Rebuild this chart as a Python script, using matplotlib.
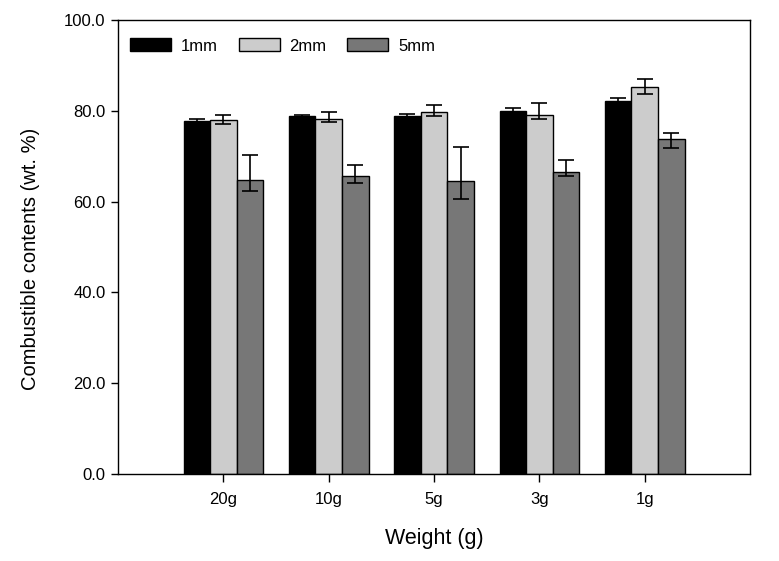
import numpy as np
import matplotlib.pyplot as plt
from matplotlib.ticker import FormatStrFormatter

plt.rcParams["font.family"] = ["Liberation Sans", "DejaVu Sans"]

# datos
pesos = ["20g", "10g", "5g", "3g", "1g"]
series = ["1mm", "2mm", "5mm"]
val_1mm = [77.8, 78.9, 78.9, 80.0, 82.2]
val_2mm = [77.9, 78.2, 79.7, 79.1, 85.2]
val_5mm = [64.8, 65.6, 64.5, 66.5, 73.7]
err_1mm_lo = [0.3, 0.2, 0.3, 0.5, 0.6]
err_1mm_hi = [0.3, 0.2, 0.4, 0.6, 0.7]
err_2mm_lo = [0.9, 0.7, 0.8, 1.0, 1.4]
err_2mm_hi = [1.2, 1.5, 1.5, 2.7, 1.8]
err_5mm_lo = [2.4, 1.5, 4.0, 0.9, 1.8]
err_5mm_hi = [5.4, 2.4, 7.5, 2.6, 1.4]
colores = ["#000000", "#cccccc", "#777777"]

fig = plt.figure(figsize=(7.79, 5.61), dpi=100)
ax = fig.add_axes([0.1515, 0.155, 0.8113, 0.8093])

x = np.arange(1, len(pesos) + 1)
w = 0.252
valores = [val_1mm, val_2mm, val_5mm]
errores = [(err_1mm_lo, err_1mm_hi), (err_2mm_lo, err_2mm_hi), (err_5mm_lo, err_5mm_hi)]
for i, (nombre, v, e, c) in enumerate(zip(series, valores, errores, colores)):
    ax.bar(x + (i - 1) * w, v, width=w, color=c, edgecolor="black",
           linewidth=1.0, label=nombre,
           yerr=[e[0], e[1]], capsize=5.5,
           error_kw=dict(ecolor="black", elinewidth=1.2, capthick=1.2))

ax.set_xlim(0, 6)
ax.set_ylim(0, 100)
ax.set_xticks(x)
ax.set_xticklabels(pesos)
ax.set_yticks(np.arange(0, 101, 20))
ax.yaxis.set_major_formatter(FormatStrFormatter("%.1f"))
ax.tick_params(direction="out", length=5, width=1, labelsize=12, pad=4)
ax.tick_params(axis="x", length=6, pad=7)
for s in ax.spines.values():
    s.set_linewidth(1.0)

ax.set_xlabel("Weight (g)", fontsize=15.5, labelpad=15)
ax.set_ylabel("Combustible contents (wt. %)", fontsize=14.5)
ax.yaxis.set_label_coords(-0.124, 0.474)

ax.legend(loc="upper left", ncol=3, frameon=False, fontsize=12,
          handlelength=2.45, handleheight=0.84, handletextpad=0.6,
          columnspacing=1.25, borderpad=0, borderaxespad=0,
          bbox_to_anchor=(0.019, 0.960))

plt.savefig("out.png", dpi=100)
